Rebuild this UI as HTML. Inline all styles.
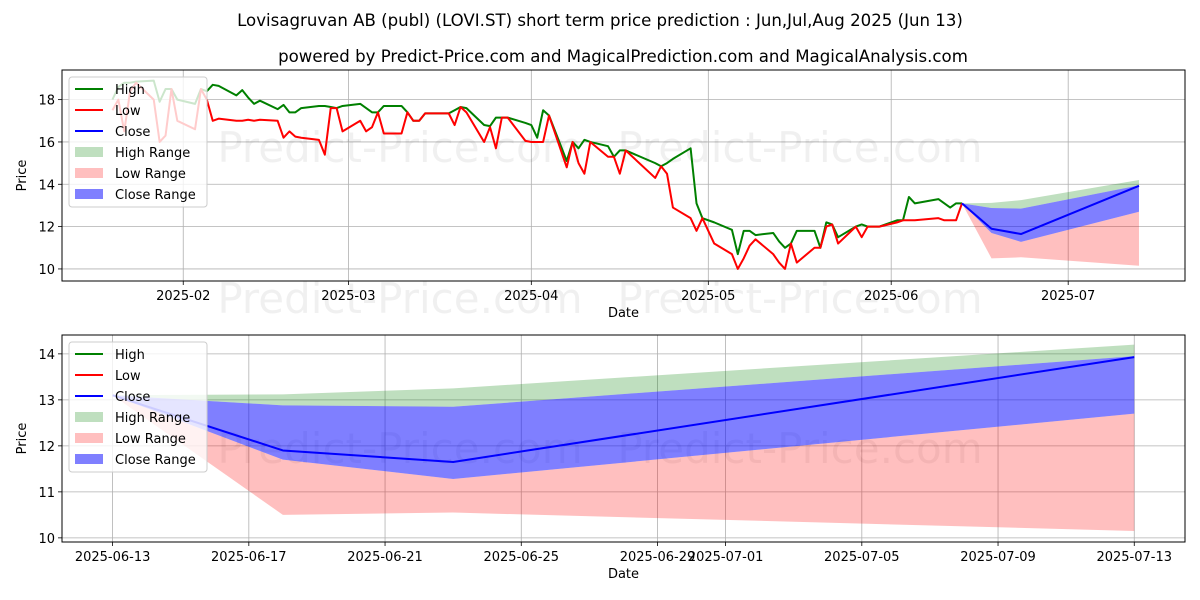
<!DOCTYPE html>
<html><head><meta charset="utf-8"><style>
html,body{margin:0;padding:0;background:#fff;}
svg{display:block;font-family:"DejaVu Sans","Liberation Sans",sans-serif;}
</style></head><body>
<svg id="chart" width="1200" height="600" viewBox="0 0 1200 600" xmlns="http://www.w3.org/2000/svg">
<text x="600" y="26" text-anchor="middle" font-size="16.6">Lovisagruvan AB (publ) (LOVI.ST) short term price prediction : Jun,Jul,Aug 2025 (Jun 13)</text>
<text x="623" y="62" text-anchor="middle" font-size="16.6">powered by Predict-Price.com and MagicalPrediction.com and MagicalAnalysis.com</text>
<g id="top"></g><g id="bot"></g>
</svg>
<script>
const histDates=["2025-01-20","2025-01-21","2025-01-22","2025-01-23","2025-01-24","2025-01-27","2025-01-28","2025-01-29","2025-01-30","2025-01-31","2025-02-03","2025-02-04","2025-02-05","2025-02-06","2025-02-07","2025-02-10","2025-02-11","2025-02-12","2025-02-13","2025-02-14","2025-02-17","2025-02-18","2025-02-19","2025-02-20","2025-02-21","2025-02-24","2025-02-25","2025-02-26","2025-02-27","2025-02-28","2025-03-03","2025-03-04","2025-03-05","2025-03-06","2025-03-07","2025-03-10","2025-03-11","2025-03-12","2025-03-13","2025-03-14","2025-03-17","2025-03-18","2025-03-19","2025-03-20","2025-03-21","2025-03-24","2025-03-25","2025-03-26","2025-03-27","2025-03-28","2025-03-31","2025-04-01","2025-04-02","2025-04-03","2025-04-04","2025-04-07","2025-04-08","2025-04-09","2025-04-10","2025-04-11","2025-04-14","2025-04-15","2025-04-16","2025-04-17","2025-04-22","2025-04-23","2025-04-24","2025-04-25","2025-04-28","2025-04-29","2025-04-30","2025-05-02","2025-05-05","2025-05-06","2025-05-07","2025-05-08","2025-05-09","2025-05-12","2025-05-13","2025-05-14","2025-05-15","2025-05-16","2025-05-19","2025-05-20","2025-05-21","2025-05-22","2025-05-23","2025-05-26","2025-05-27","2025-05-28","2025-05-30","2025-06-02","2025-06-03","2025-06-04","2025-06-05","2025-06-09","2025-06-10","2025-06-11","2025-06-12","2025-06-13"];
const highVals=[18.0,18.6,18.8,18.8,18.85,18.9,17.9,18.5,18.5,18.0,17.8,18.5,18.4,18.7,18.65,18.2,18.45,18.1,17.8,17.95,17.55,17.75,17.4,17.4,17.6,17.7,17.7,17.65,17.6,17.7,17.8,17.6,17.4,17.4,17.7,17.7,17.4,17.0,17.0,17.35,17.35,17.35,17.5,17.65,17.6,16.8,16.75,17.15,17.15,17.15,16.9,16.8,16.2,17.5,17.25,15.1,16.0,15.7,16.1,16.0,15.8,15.3,15.6,15.6,15.0,14.85,15.0,15.2,15.7,13.1,12.4,12.2,11.85,10.7,11.8,11.8,11.6,11.7,11.3,11.0,11.2,11.8,11.8,11.0,12.2,12.1,11.5,12.0,12.1,12.0,12.0,12.3,12.3,13.4,13.1,13.3,13.1,12.9,13.1,13.1];
const lowVals=[17.5,18.0,16.5,18.4,18.8,18.0,16.0,16.3,18.5,17.0,16.6,18.5,18.0,17.0,17.1,17.0,17.0,17.05,17.0,17.05,17.0,16.2,16.5,16.25,16.2,16.1,15.4,17.6,17.6,16.5,17.0,16.5,16.7,17.4,16.4,16.4,17.4,17.0,17.0,17.35,17.35,17.35,16.8,17.65,17.4,16.0,16.7,15.7,17.15,17.15,16.05,16.0,16.0,16.0,17.25,14.8,16.0,15.0,14.5,16.0,15.3,15.3,14.5,15.6,14.3,14.85,14.5,12.9,12.4,11.8,12.4,11.2,10.7,10.0,10.5,11.1,11.4,10.7,10.3,10.0,11.2,10.3,11.0,11.0,12.0,12.1,11.2,12.0,11.5,12.0,12.0,12.2,12.3,12.3,12.3,12.4,12.3,12.3,12.3,13.1];
const fcDates=["2025-06-13","2025-06-18","2025-06-23","2025-07-13"];
const fcClose=[13.1,11.9,11.65,13.93];
const fcHighUp=[13.1,13.12,13.25,14.2];
const fcHighLo=[13.1,12.88,12.85,13.95];
const fcLowUp=[13.1,11.7,11.28,12.7];
const fcLowLo=[13.1,10.5,10.55,10.15];
const fcCloseUp=[13.1,12.88,12.85,13.95];
const fcCloseLo=[13.1,11.7,11.28,12.7];
const topXTicks=["2025-02-01","2025-03-01","2025-04-01","2025-05-01","2025-06-01","2025-07-01"];
const topXLabels=["2025-02","2025-03","2025-04","2025-05","2025-06","2025-07"];
const topYTicks=[10,12,14,16,18];
const botXTicks=["2025-06-13","2025-06-17","2025-06-21","2025-06-25","2025-06-29","2025-07-01","2025-07-05","2025-07-09","2025-07-13"];
const botYTicks=[10,11,12,13,14];

const NS="http://www.w3.org/2000/svg";
const day=s=>Date.UTC(+s.slice(0,4),+s.slice(5,7)-1,+s.slice(8,10))/864e5;
function mk(p,tag,a){const e=document.createElementNS(NS,tag);for(const k in a)e.setAttribute(k,a[k]);p.appendChild(e);return e;}

function panel(g,cfg){
  const {L,R,T,B,d0,d1,v0,v1}=cfg;
  const X=s=>L+(day(s)-d0)/(d1-d0)*(R-L);
  const Y=v=>B-(v-v0)/(v1-v0)*(B-T);
  const clipId=cfg.id+"clip";
  const cp=mk(g,"clipPath",{id:clipId});mk(cp,"rect",{x:L,y:T,width:R-L,height:B-T});
  cfg.xt.forEach((t,i)=>{const x=X(t);
    const gl=mk(g,"line",{x1:x,x2:x,y1:T,y2:B,stroke:"#b0b0b0","stroke-width":0.8});
    
    mk(g,"line",{x1:x,x2:x,y1:B,y2:B+4,stroke:"#000","stroke-width":0.8});
    const tx=mk(g,"text",{x:x,y:B+19,"text-anchor":"middle","font-size":13});tx.textContent=cfg.xl[i];
    });
  cfg.yt.forEach(v=>{const y=Y(v);
    const gl=mk(g,"line",{x1:L,x2:R,y1:y,y2:y,stroke:"#b0b0b0","stroke-width":0.8});
    
    mk(g,"line",{x1:L-4,x2:L,y1:y,y2:y,stroke:"#000","stroke-width":0.8});
    const tx=mk(g,"text",{x:L-7,y:y+5,"text-anchor":"end","font-size":13});tx.textContent=v;
    });
  cfg.wm.forEach(([x,y])=>{const w=mk(g,"text",{x:x,y:y,"text-anchor":"middle","font-size":42,fill:"#000","fill-opacity":0.06});w.textContent="Predict-Price.com";
    });
  const pg=mk(g,"g",{"clip-path":"url(#"+clipId+")"});
  const band=(up,lo,fill,op,name)=>{let pts=fcDates.map((d,i)=>X(d)+","+Y(up[i]));
    pts=pts.concat(fcDates.map((d,i)=>X(d)+","+Y(lo[i])).reverse());
    const p=mk(pg,"polygon",{points:pts.join(" "),fill:fill,"fill-opacity":op});
    };
  band(fcHighUp,fcHighLo,"#008000",0.25,"high-range-band");
  band(fcLowUp,fcLowLo,"#ff0000",0.25,"low-range-band");
  band(fcCloseUp,fcCloseLo,"#0000ff",0.5,"close-range-band");
  const line=(ds,vs,col,name)=>{const p=mk(pg,"polyline",{points:ds.map((d,i)=>X(d)+","+Y(vs[i])).join(" "),fill:"none",stroke:col,"stroke-width":2,"stroke-linejoin":"round"});
    };
  if(cfg.hist){
    line(histDates,highVals,"#008000","high-line");
    line(histDates,lowVals,"#ff0000","low-line");
  }
  line(fcDates,fcClose,"#0000ff","close-line");
  const fr=mk(g,"rect",{x:L,y:T,width:R-L,height:B-T,fill:"none",stroke:"#000","stroke-width":1});
  
  const xt=mk(g,"text",{x:(L+R)/2,y:B+36,"text-anchor":"middle","font-size":13});xt.textContent="Date";
  
  const yt=mk(g,"text",{x:0,y:0,"text-anchor":"middle","font-size":13,transform:"translate(26,"+((T+B)/2)+") rotate(-90)"});yt.textContent="Price";
  
  const lg=mk(g,"g",{});
  
  const lx=69,ly=T+7;
  mk(lg,"rect",{x:lx,y:ly,width:138,height:130,rx:3,fill:"#fff","fill-opacity":0.8,stroke:"#ccc"});
  const items=[["High","line","#008000",1],["Low","line","#ff0000",1],["Close","line","#0000ff",1],["High Range","box","#008000",0.25],["Low Range","box","#ff0000",0.25],["Close Range","box","#0000ff",0.5]];
  items.forEach((it,i)=>{const cy=ly+12+i*21;
    if(it[1]=="line")mk(lg,"line",{x1:lx+6,x2:lx+34,y1:cy,y2:cy,stroke:it[2],"stroke-width":2});
    else mk(lg,"rect",{x:lx+6,y:cy-5,width:28,height:10,fill:it[2],"fill-opacity":it[3]});
    const t=mk(lg,"text",{x:lx+46,y:cy+5,"font-size":13});t.textContent=it[0];
    });
}
panel(document.getElementById("top"),{id:"t",hist:true,L:62,R:1185,T:70,B:281,d0:day("2025-01-01")+10.45,d1:day("2025-01-01")+200.8,v0:9.43,v1:19.4,xt:topXTicks,xl:topXLabels,yt:topYTicks,wm:[[400,162],[800,162],[400,313],[800,313]]});
panel(document.getElementById("bot"),{id:"b",hist:false,L:62,R:1185,T:335,B:542,d0:day("2025-06-13")-1.486,d1:day("2025-06-13")+31.49,v0:9.91,v1:14.41,xt:botXTicks,xl:botXTicks,yt:botYTicks,wm:[[400,463],[800,463]]});
</script>
</body></html>
